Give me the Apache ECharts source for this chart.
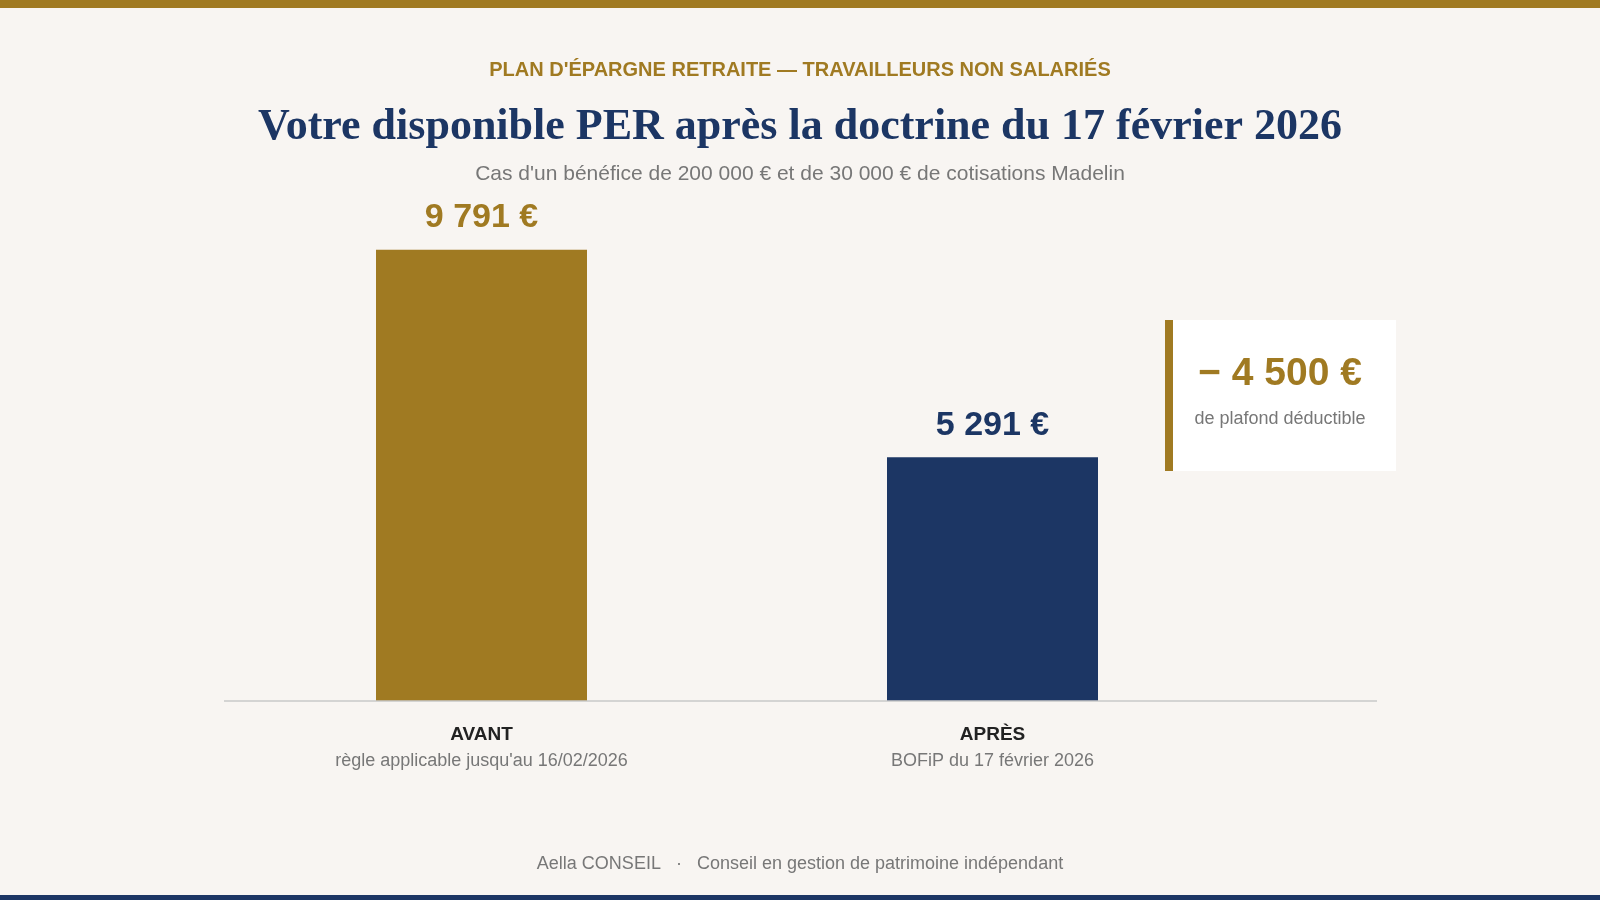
<!DOCTYPE html>
<html>
<head>
<meta charset="utf-8">
<script src="https://cdn.jsdelivr.net/npm/echarts@6/dist/echarts.min.js"></script>
<style>
  html, body { margin: 0; padding: 0; background: #f8f5f2; }
  #chart { width: 1600px; height: 900px; }
</style>
</head>
<body>
<div id="chart"></div>
<script>
const categories = ['AVANT', 'APRÈS'];
const subLabels = ["règle applicable jusqu'au 16/02/2026", 'BOFiP du 17 février 2026'];
const values = [9791, 5291];
const barColors = ['#a07a22', '#1c3664'];

const gold = '#a07a22';
const navy = '#1c3664';
const grey = '#777777';

const fmt = v => String(v).replace(/\B(?=(\d{3})+(?!\d))/g, ' ') + ' €';

const chart = echarts.init(document.getElementById('chart'));

chart.setOption({
  backgroundColor: '#f8f5f2',
  animation: false,
  grid: { left: 226, right: 352, top: 194, bottom: 199 },
  xAxis: {
    type: 'category',
    data: categories,
    axisLine: { show: false },
    axisTick: { show: false },
    axisLabel: {
      margin: 20,
      formatter: (v, i) => '{a|' + v + '}\n{b|' + subLabels[i] + '}',
      rich: {
        a: { fontFamily: 'Liberation Sans, Arial', fontSize: 19, fontWeight: 'bold', color: '#222', lineHeight: 27 },
        b: { fontFamily: 'Liberation Sans, Arial', fontSize: 18, color: grey, lineHeight: 27 }
      }
    }
  },
  yAxis: { type: 'value', min: 0, max: 11000, show: false, splitLine: { show: false } },
  series: [{
    type: 'bar',
    barWidth: 211,
    data: values.map((v, i) => ({
      value: v,
      itemStyle: { color: barColors[i] },
      label: { color: barColors[i] }
    })),
    label: {
      show: true,
      position: 'top',
      distance: 15,
      formatter: p => fmt(p.value),
      fontFamily: 'Liberation Sans, Arial',
      fontSize: 34,
      fontWeight: 'bold'
    }
  }],
  graphic: [
    { type: 'rect', shape: { x: 0, y: 0, width: 1600, height: 8 }, style: { fill: gold } },
    { type: 'rect', shape: { x: 0, y: 895, width: 1600, height: 5 }, style: { fill: navy } },
    { type: 'line', shape: { x1: 224, y1: 701, x2: 1377, y2: 701 }, style: { stroke: '#c8c8c8', lineWidth: 1.5 }, z: 10 },
    { type: 'text', left: 'center', top: 60, style: { text: "PLAN D'ÉPARGNE RETRAITE — TRAVAILLEURS NON SALARIÉS", fill: gold, font: 'bold 20px Liberation Sans, Arial' } },
    { type: 'text', left: 'center', top: 106, style: { text: 'Votre disponible PER après la doctrine du 17 février 2026', fill: navy, font: 'bold 44px Liberation Serif, Times New Roman' } },
    { type: 'text', left: 'center', top: 164, style: { text: "Cas d'un bénéfice de 200 000 € et de 30 000 € de cotisations Madelin", fill: grey, font: '21px Liberation Sans, Arial' } },
    { type: 'rect', shape: { x: 1165, y: 320, width: 231, height: 151 }, style: { fill: '#ffffff' } },
    { type: 'rect', shape: { x: 1165, y: 320, width: 8, height: 151 }, style: { fill: gold } },
    { type: 'text', x: 1280, y: 374, style: { text: '− 4 500 €', fill: gold, font: 'bold 39px Liberation Sans, Arial', align: 'center', verticalAlign: 'middle' } },
    { type: 'text', x: 1280, y: 419, style: { text: 'de plafond déductible', fill: grey, font: '18px Liberation Sans, Arial', align: 'center', verticalAlign: 'middle' } },
    { type: 'text', left: 'center', top: 855, style: { text: 'Aella CONSEIL   ·   Conseil en gestion de patrimoine indépendant', fill: grey, font: '18px Liberation Sans, Arial' } }
  ]
});
</script>
</body>
</html>
